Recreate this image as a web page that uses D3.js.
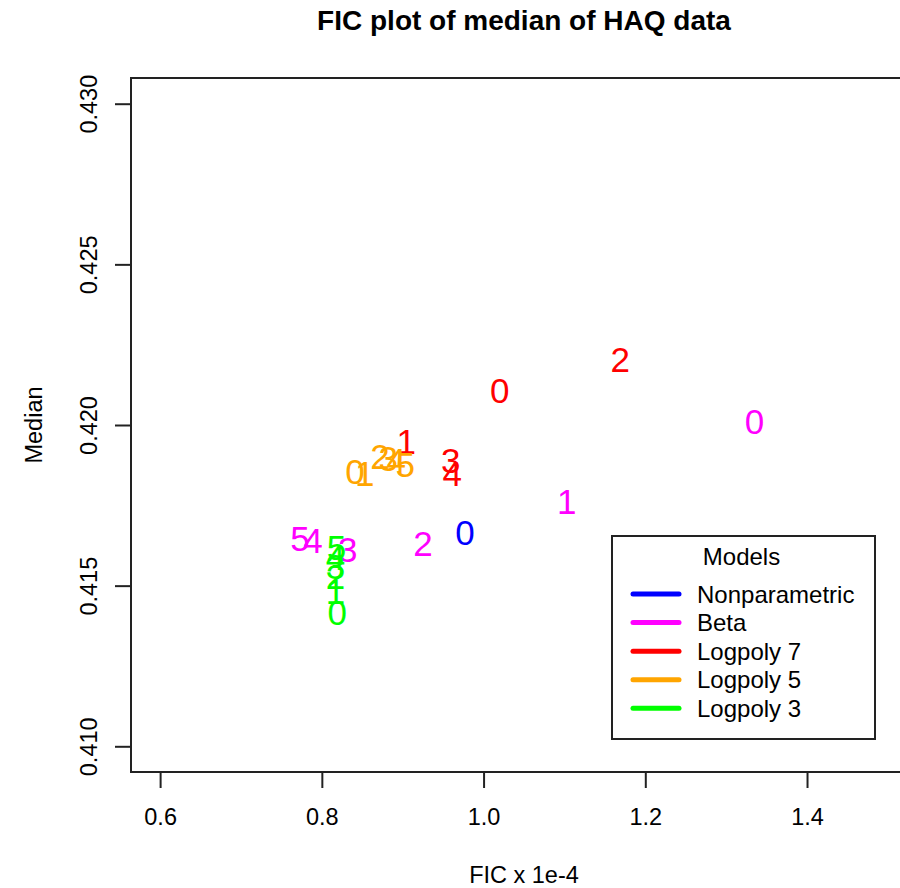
<!DOCTYPE html>
<html>
<head>
<meta charset="utf-8">
<script src="https://cdn.jsdelivr.net/npm/d3@7"></script>
<style>
  html, body { margin: 0; padding: 0; background: #fff; }
  svg { display: block; font-family: Arial, "Liberation Sans", sans-serif; }
</style>
</head>
<body>
<svg id="chart" width="900" height="888"></svg>
<script>
// Model names and colours (legend order)
const models = ["Nonparametric", "Beta", "Logpoly 7", "Logpoly 5", "Logpoly 3"];
const modelColors = ["#0000FF", "#FF00FF", "#FF0000", "#FFA500", "#00FF00"];

// FIC (x 1e-4) and median estimate for each model, labelled by order 0..k
const nonparFIC    = [0.977];
const nonparMedian = [0.41666];

const betaFIC    = [1.335, 1.103, 0.925, 0.832, 0.789, 0.773];
const betaMedian = [0.42011, 0.41763, 0.41632, 0.41614, 0.41642, 0.41648];

const lp7FIC    = [1.020, 0.9045, 1.169, 0.9595, 0.9614];
const lp7Median = [0.42107, 0.41949, 0.42203, 0.41890, 0.41849];

const lp5FIC    = [0.841, 0.853, 0.872, 0.882, 0.892, 0.903];
const lp5Median = [0.41856, 0.41849, 0.41902, 0.41896, 0.41890, 0.41877];

const lp3FIC    = [0.819, 0.817, 0.817, 0.817, 0.817, 0.818];
const lp3Median = [0.41418, 0.41483, 0.41530, 0.41561, 0.41589, 0.41620];

// Axis ticks
const xTicks = [0.6, 0.8, 1.0, 1.2, 1.4];
const yTicks = [0.410, 0.415, 0.420, 0.425, 0.430];

const series = [
  { fic: nonparFIC, med: nonparMedian },
  { fic: betaFIC,   med: betaMedian },
  { fic: lp7FIC,    med: lp7Median },
  { fic: lp5FIC,    med: lp5Median },
  { fic: lp3FIC,    med: lp3Median }
];

const svg = d3.select("#chart");

// Plot region (axis ranges padded by 4% like the default R style)
const plot = { left: 131, right: 917, top: 78, bottom: 772 };
const xlim = [0.6, 1.5], ylim = [0.41, 0.43];
const xpad = (xlim[1] - xlim[0]) * 0.04, ypad = (ylim[1] - ylim[0]) * 0.04;

const x = d3.scaleLinear().domain([xlim[0] - xpad, xlim[1] + xpad]).range([plot.left, plot.right]);
const y = d3.scaleLinear().domain([ylim[0] - ypad, ylim[1] + ypad]).range([plot.bottom, plot.top]);

const ink = "#222";
const axisFont = 23.5;

// Title
svg.append("text")
  .attr("x", (plot.left + plot.right) / 2)
  .attr("y", 30)
  .attr("text-anchor", "middle")
  .attr("font-size", 28)
  .attr("font-weight", "bold")
  .attr("fill", "#000")
  .text("FIC plot of median of HAQ data");

// Bottom axis
const xAxis = svg.append("g")
  .attr("transform", `translate(0,${plot.bottom})`)
  .call(d3.axisBottom(x).tickValues(xTicks).tickSize(16).tickSizeOuter(0).tickPadding(20)
    .tickFormat(d3.format(".1f")));
xAxis.select(".domain").remove();
xAxis.selectAll(".tick line").attr("stroke", ink).attr("stroke-width", 2);
xAxis.selectAll(".tick text")
  .attr("font-size", axisFont).attr("fill", "#000")
  .attr("font-family", "Arial, 'Liberation Sans', sans-serif");

// Left axis (labels rotated, R style)
const yAxis = svg.append("g")
  .attr("transform", `translate(${plot.left},0)`)
  .call(d3.axisLeft(y).tickValues(yTicks).tickSize(16).tickSizeOuter(0).tickFormat(d3.format(".3f")));
yAxis.select(".domain").remove();
yAxis.selectAll(".tick line").attr("stroke", ink).attr("stroke-width", 2);
yAxis.selectAll(".tick text").remove();
yAxis.selectAll(".tick").append("text")
  .attr("transform", "translate(-34.5,0) rotate(-90)")
  .attr("text-anchor", "middle")
  .attr("font-size", axisFont)
  .attr("fill", "#000")
  .attr("font-family", "Arial, 'Liberation Sans', sans-serif")
  .text(d => d3.format(".3f")(d));

// Plot box
svg.append("rect")
  .attr("x", plot.left).attr("y", plot.top)
  .attr("width", plot.right - plot.left).attr("height", plot.bottom - plot.top)
  .attr("fill", "none").attr("stroke", ink).attr("stroke-width", 2);

// Axis titles
svg.append("text")
  .attr("x", (plot.left + plot.right) / 2).attr("y", 883)
  .attr("text-anchor", "middle").attr("font-size", axisFont).attr("fill", "#000")
  .text("FIC x 1e-4");
svg.append("text")
  .attr("transform", `translate(42,${(plot.top + plot.bottom) / 2}) rotate(-90)`)
  .attr("text-anchor", "middle").attr("font-size", axisFont).attr("fill", "#000")
  .text("Median");

// Point labels: each estimate is drawn as its order number, centred on the point
const labelSize = 35;
const pts = svg.append("g");
series.forEach((s, i) => {
  const rows = s.fic.map((f, j) => ({ f, m: s.med[j], lab: String(j) }));
  pts.selectAll(null).data(rows).enter().append("text")
    .attr("x", d => x(d.f))
    .attr("y", d => y(d.m) + labelSize * 0.358)
    .attr("text-anchor", "middle")
    .attr("font-size", labelSize)
    .attr("fill", modelColors[i])
    .text(d => d.lab);
});

// Legend
const lg = { x: 612, y: 536, w: 263, h: 203 };
const legend = svg.append("g");
legend.append("rect")
  .attr("x", lg.x).attr("y", lg.y).attr("width", lg.w).attr("height", lg.h)
  .attr("fill", "#fff").attr("stroke", ink).attr("stroke-width", 2);
legend.append("text")
  .attr("x", lg.x + lg.w / 2 - 2).attr("y", 565)
  .attr("text-anchor", "middle").attr("font-size", 24).attr("fill", "#000")
  .text("Models");
const rowY = d3.scaleLinear().domain([0, models.length - 1]).range([594, 708.3]);
models.forEach((name, i) => {
  legend.append("line")
    .attr("x1", 633).attr("x2", 679)
    .attr("y1", rowY(i)).attr("y2", rowY(i))
    .attr("stroke", modelColors[i]).attr("stroke-width", 5).attr("stroke-linecap", "round");
  legend.append("text")
    .attr("x", 697).attr("y", rowY(i) + 8.6)
    .attr("font-size", 24).attr("fill", "#000")
    .text(name);
});
</script>
</body>
</html>
